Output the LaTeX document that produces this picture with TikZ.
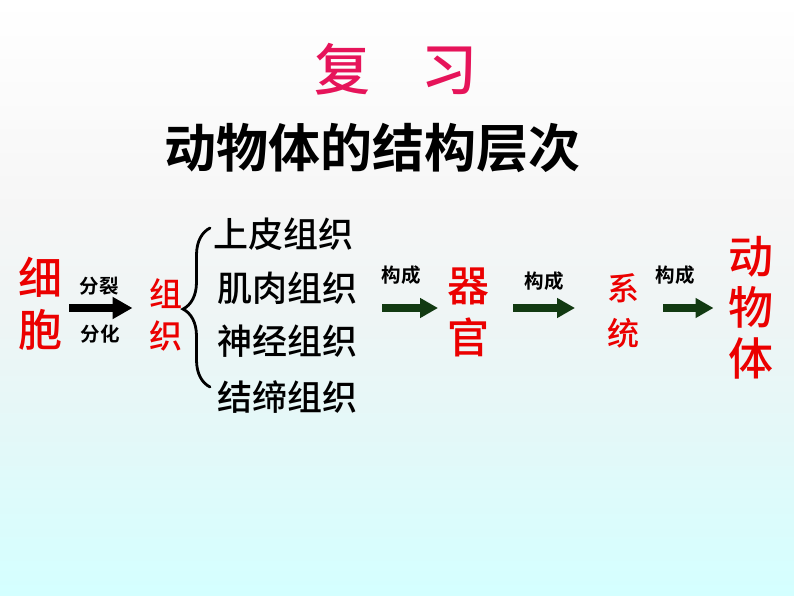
\documentclass[tikz,border=0pt]{standalone}
\usepackage{fontspec}
\newfontfamily\cjk{Noto Sans CJK SC Medium}
\newfontfamily\cjkbold{Noto Sans CJK SC Bold}
\usetikzlibrary{arrows.meta,decorations.pathreplacing}
\definecolor{titlepink}{RGB}{230,20,90}
\definecolor{keyred}{RGB}{235,0,0}
\definecolor{arrowgreen}{RGB}{18,58,18}
\definecolor{bgA}{RGB}{255,255,255}
\definecolor{bgB}{RGB}{246,246,246}
\definecolor{bgC}{RGB}{238,245,245}
\definecolor{bgD}{RGB}{228,248,248}
\definecolor{bgE}{RGB}{212,255,255}
\tikzset{
  txt/.style={inner sep=0pt, outer sep=0pt, align=center},
  keyword/.style={txt, text=keyred},
  tissue/.style={txt, font=\cjk\fontsize{35}{35}\selectfont},
  small/.style={txt, font=\cjkbold\fontsize{19.5}{19.5}\selectfont},
  blackarrow/.style={line width=8pt, -{Triangle[length=20pt,width=21pt]}},
  greenarrow/.style={draw=arrowgreen, line width=8pt, -{Triangle[length=18pt,width=19pt]}, arrowgreen},
}
\begin{document}
\begin{tikzpicture}[x=1pt, y=-1pt]
\useasboundingbox (0,0) rectangle (794,596);
% background gradient, piecewise
\shade[top color=bgA, bottom color=bgB] (0,0) rectangle (794,210.5);
\shade[top color=bgB, bottom color=bgC] (0,210) rectangle (794,320.5);
\shade[top color=bgC, bottom color=bgD] (0,320) rectangle (794,430.5);
\shade[top color=bgD, bottom color=bgE] (0,430) rectangle (794,596);

% titles
\node[txt, text=titlepink, font=\cjk\fontsize{56}{56}\selectfont] (title) at (396,69) {复\hspace{52pt}习};
\node[txt, font=\cjkbold\fontsize{52}{52}\selectfont] (subtitle) at (372,148) {动物体的结构层次};

% main chain
\node[keyword, font=\cjk\fontsize{44}{52}\selectfont] (cell) at (40,304) {细\\胞};
\node[keyword, font=\cjk\fontsize{33}{42}\selectfont] (tissue) at (166,315) {组\\织};
\node[small] (split) at (99,286) {分裂};
\node[small] (diff) at (100,334) {分化};

% tissue list
\node[tissue] (epi) at (283,234) {上皮组织};
\node[tissue] (muscle) at (287,288) {肌肉组织};
\node[tissue] (nerve) at (287,341) {神经组织};
\node[tissue] (conn) at (287,397) {结缔组织};

\node[keyword, font=\cjk\fontsize{42}{52}\selectfont] (organ) at (468,312) {器\\官};
\node[keyword, font=\cjk\fontsize{32}{45}\selectfont] (system) at (623,311) {系\\统};
\node[keyword, font=\cjk\fontsize{45}{51}\selectfont] (animal) at (751,308) {动\\物\\体};

\node[small] (form1) at (401,275) {构成};
\node[small] (form2) at (544,281) {构成};
\node[small] (form3) at (675,275) {构成};

\coordinate (row) at (0,308);

% brace
\draw[line width=2.8pt, line cap=round, decorate,
      decoration={brace, amplitude=27pt, aspect=0.49}]
  (210,387) -- (210,228);

% arrows
\draw[blackarrow, shorten <=7pt, shorten >=17pt] (cell.east |- row) -- (tissue.west |- row);
\draw[greenarrow, shorten <=25pt, shorten >=9pt] (muscle.east |- row) -- (organ.west |- row);
\draw[greenarrow, shorten <=24pt, shorten >=32pt] (organ.east |- row) -- (system.west |- row);
\draw[greenarrow, shorten <=24pt, shorten >=15pt] (system.east |- row) -- (animal.west |- row);
\end{tikzpicture}
\end{document}
